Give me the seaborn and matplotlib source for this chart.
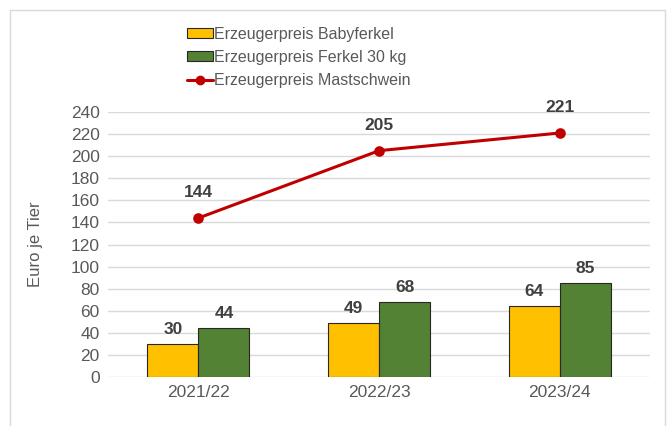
#!/usr/bin/env python3
"""
Erzeugerpreise Ferkel und Mastschweine 2021/22 - 2023/24
Grouped bars (Babyferkel, Ferkel 30 kg) plus line for Mastschwein.
"""

import pandas as pd
import matplotlib.pyplot as plt
import matplotlib.patches as mpatches
from matplotlib.lines import Line2D
import seaborn as sns

# ------------------------------------------------------------------
# Data
# ------------------------------------------------------------------
years = ["2021/22", "2022/23", "2023/24"]
babyferkel = [30, 49, 64]
ferkel_30kg = [44, 68, 85]
mastschwein = [144, 205, 221]

label_baby = "Erzeugerpreis Babyferkel"
label_ferkel = "Erzeugerpreis Ferkel 30 kg"
label_mast = "Erzeugerpreis Mastschwein"

bars = pd.DataFrame({
    "Jahr": years * 2,
    "Preis": babyferkel + ferkel_30kg,
    "Serie": [label_baby] * 3 + [label_ferkel] * 3,
})
line = pd.DataFrame({"Jahr": years, "Preis": mastschwein})

c_yellow = "#FFC000"
c_green = "#548235"
c_red = "#C00000"
c_text = "#595959"
c_label = "#404040"

# ------------------------------------------------------------------
# Plot
# ------------------------------------------------------------------
sns.set_style("white")
plt.rcParams["font.family"] = ["Liberation Sans", "DejaVu Sans"]

fig = plt.figure(figsize=(6.72, 4.26), dpi=100)
ax = fig.add_axes([0.161, 0.115, 0.806, 0.622])

sns.barplot(data=bars, x="Jahr", y="Preis", hue="Serie",
            palette=[c_yellow, c_green], saturation=1, width=0.565, gap=0,
            edgecolor="#262626", linewidth=0.8, legend=False, ax=ax)
sns.pointplot(data=line, x="Jahr", y="Preis", color=c_red,
              markers="o", markersize=6, linewidth=2.2, ax=ax)

for cont in ax.containers:
    ax.bar_label(cont, padding=5, fontsize=12.5, fontweight="bold",
                 color=c_label)

for i, v in enumerate(mastschwein):
    ax.annotate(str(v), (i, v), xytext=(0, 13), textcoords="offset points",
                ha="center", va="bottom", fontsize=12.5, fontweight="bold",
                color=c_label, annotation_clip=False)

ax.set_ylim(0, 240)
ax.set_yticks(range(0, 241, 20))
ax.set_xlim(-0.5, 2.5)
ax.yaxis.grid(True, color="#D9D9D9", linewidth=1)
ax.set_axisbelow(True)
for s in ax.spines.values():
    s.set_visible(False)
ax.tick_params(axis="both", length=0, labelsize=12.5, labelcolor=c_text, pad=6)
ax.set_xlabel("")
ax.set_ylabel("Euro je Tier", fontsize=12, color=c_text, labelpad=20)

handles = [
    mpatches.Patch(facecolor=c_yellow, edgecolor="#262626", linewidth=0.8),
    mpatches.Patch(facecolor=c_green, edgecolor="#262626", linewidth=0.8),
    Line2D([], [], color=c_red, linewidth=2.2, marker="o", markersize=6),
]
fig.legend(handles, [label_baby, label_ferkel, label_mast],
           loc="upper center", bbox_to_anchor=(0.445, 0.952), frameon=False,
           fontsize=11.5, labelcolor=c_text, handlelength=1.6,
           handleheight=0.55, handletextpad=0.1, labelspacing=0.5,
           borderaxespad=0)

# light frame around the chart area
fig.patches.append(mpatches.Rectangle(
    (10 / 672, -0.05), 655 / 672, 1 - 10 / 426 + 0.05,
    transform=fig.transFigure, fill=False, edgecolor="#D9D9D9",
    linewidth=1))

plt.savefig("out.png", dpi=100)
plt.close()
